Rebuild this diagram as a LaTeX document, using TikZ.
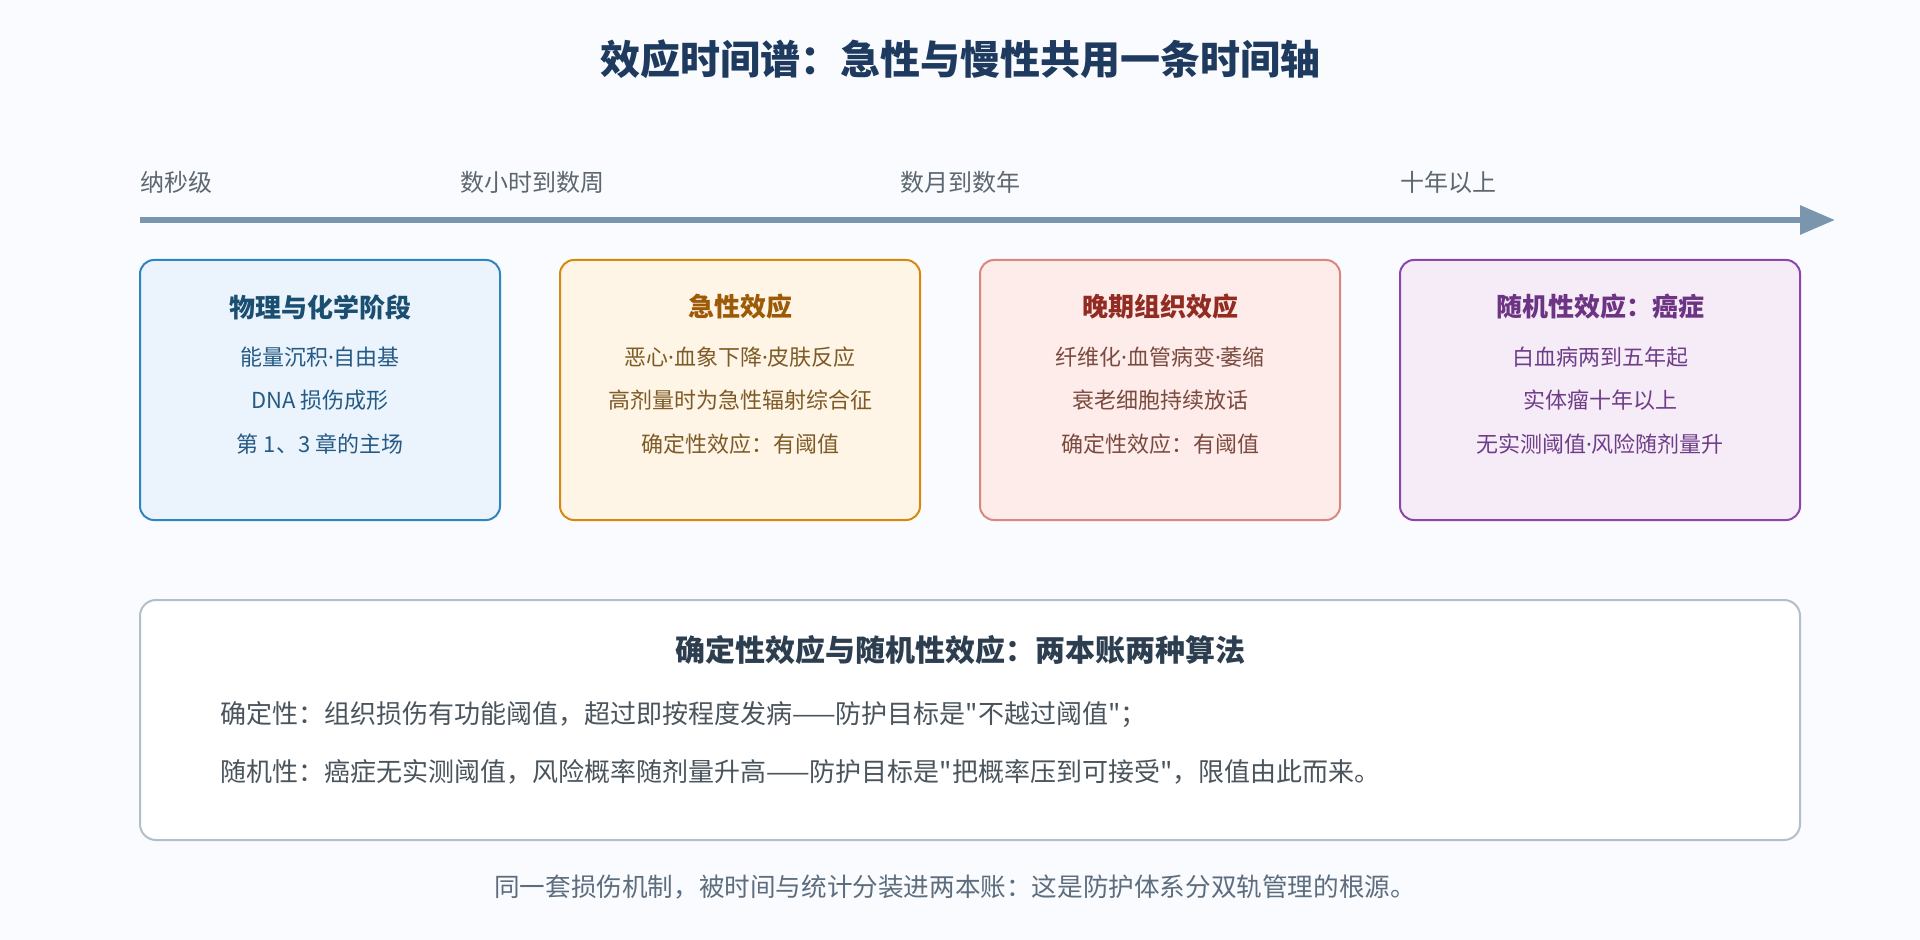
\documentclass[tikz,border=0pt]{standalone}
\usepackage{fontspec}
\setmainfont{Noto Sans CJK SC}
\newfontfamily\plaincjk{Noto Sans CJK SC}
\newfontfamily\latinsans{Noto Sans}
\newcommand{\ptdot}{{\latinsans ·}}
\usepackage{tikz}
\usetikzlibrary{positioning,arrows.meta}

\definecolor{pagebg}{HTML}{F9FBFE}
\definecolor{titleblue}{HTML}{1F3A5F}
\definecolor{axislabel}{HTML}{5D6770}
\definecolor{axisline}{HTML}{7A96AF}
\definecolor{physline}{HTML}{2E86C1}
\definecolor{physfill}{HTML}{EBF4FC}
\definecolor{physhead}{HTML}{1B4F72}
\definecolor{phystext}{HTML}{245A85}
\definecolor{acuteline}{HTML}{D68910}
\definecolor{acutefill}{HTML}{FEF5E6}
\definecolor{acutehead}{HTML}{9C5A06}
\definecolor{acutetext}{HTML}{7E5A26}
\definecolor{lateline}{HTML}{D98880}
\definecolor{latefill}{HTML}{FDECEA}
\definecolor{latehead}{HTML}{922B21}
\definecolor{latetext}{HTML}{7A4A3E}
\definecolor{randline}{HTML}{8E44AD}
\definecolor{randfill}{HTML}{F5ECF8}
\definecolor{randhead}{HTML}{6C3483}
\definecolor{randtext}{HTML}{6F3D88}
\definecolor{noteline}{HTML}{B3BFC8}
\definecolor{notehead}{HTML}{2C3E50}
\definecolor{notetext}{HTML}{4A545C}
\definecolor{foottext}{HTML}{5D6D7E}

\begin{document}
\begin{tikzpicture}[x=0.5pt,y=-0.5pt,
  stage/.style={rounded corners=7pt, line width=1pt, minimum width=180pt, minimum height=130pt, inner sep=0pt},
  stagehead/.style={font=\bfseries\fontsize{13pt}{15pt}\selectfont, inner sep=0pt},
  stagetext/.style={font=\fontsize{11pt}{13pt}\selectfont, inner sep=0pt},
  axistext/.style={font=\fontsize{12pt}{14pt}\selectfont, text=axislabel, anchor=west, inner sep=0pt},
  notetextstyle/.style={font=\plaincjk\fontsize{13pt}{15pt}\selectfont, text=notetext, anchor=west, inner sep=0pt}]
\fill[pagebg] (0,0) rectangle (1920,940);
\useasboundingbox (0,0) rectangle (1920,940);

\node[font=\bfseries\fontsize{20pt}{24pt}\selectfont, text=titleblue] (title) at (960,59) {效应时间谱：急性与慢性共用一条时间轴};

\node[axistext] (t_ns) at (140,182) {纳秒级};
\node[axistext] (t_hours) at (460,182) {数小时到数周};
\node[axistext] (t_months) at (900,182) {数月到数年};
\node[axistext] (t_decade) at (1400,182) {十年以上};
\coordinate (axis_a) at (140,220);
\coordinate (axis_b) at (1835,220);
\draw[line width=3pt, axisline, -{Triangle[length=17.5pt,width=14pt]}] (axis_a) -- (axis_b);

\node[stage, draw=physline, fill=physfill] (phys) at (320,390) {};
\node[stagehead, text=physhead] (phys_head) at (320,307) {物理与化学阶段};
\node[stagetext, text=phystext] (phys_a) at (320,357) {能量沉积\ptdot 自由基};
\node[stagetext, text=phystext] (phys_b) at (320,400) {DNA 损伤成形};
\node[stagetext, text=phystext] (phys_c) at (320,444) {第 1、3 章的主场};

\node[stage, draw=acuteline, fill=acutefill] (acute) at (740,390) {};
\node[stagehead, text=acutehead] (acute_head) at (740,307) {急性效应};
\node[stagetext, text=acutetext] (acute_a) at (740,357) {恶心\ptdot 血象下降\ptdot 皮肤反应};
\node[stagetext, text=acutetext] (acute_b) at (740,400) {高剂量时为急性辐射综合征};
\node[stagetext, text=acutetext] (acute_c) at (740,444) {确定性效应：有阈值};

\node[stage, draw=lateline, fill=latefill] (late) at (1160,390) {};
\node[stagehead, text=latehead] (late_head) at (1160,307) {晚期组织效应};
\node[stagetext, text=latetext] (late_a) at (1160,357) {纤维化\ptdot 血管病变\ptdot 萎缩};
\node[stagetext, text=latetext] (late_b) at (1160,400) {衰老细胞持续放话};
\node[stagetext, text=latetext] (late_c) at (1160,444) {确定性效应：有阈值};

\node[stage, draw=randline, fill=randfill, minimum width=200pt] (rand) at (1600,390) {};
\node[stagehead, text=randhead] (rand_head) at (1600,307) {随机性效应：癌症};
\node[stagetext, text=randtext] (rand_a) at (1600,357) {白血病两到五年起};
\node[stagetext, text=randtext] (rand_b) at (1600,400) {实体瘤十年以上};
\node[stagetext, text=randtext] (rand_c) at (1600,444) {无实测阈值\ptdot 风险随剂量升};

\draw[rounded corners=8pt, line width=1pt, draw=noteline, fill=white] (140,600) rectangle (1800,840);
\node[font=\bfseries\fontsize{15pt}{18pt}\selectfont, text=notehead, inner sep=0pt] (note_head) at (960,650) {确定性效应与随机性效应：两本账两种算法};
\node[notetextstyle] (note_a) at (220,715) {确定性：组织损伤有功能阈值，超过即按程度发病——防护目标是"不越过阈值"；};
\node[notetextstyle] (note_b) at (220,772) {随机性：癌症无实测阈值，风险概率随剂量升高——防护目标是"把概率压到可接受"，限值由此而来。};

\node[font=\fontsize{12.8pt}{15pt}\selectfont, text=foottext, inner sep=0pt] (footer) at (955,887) {同一套损伤机制，被时间与统计分装进两本账：这是防护体系分双轨管理的根源。};
\end{tikzpicture}
\end{document}
